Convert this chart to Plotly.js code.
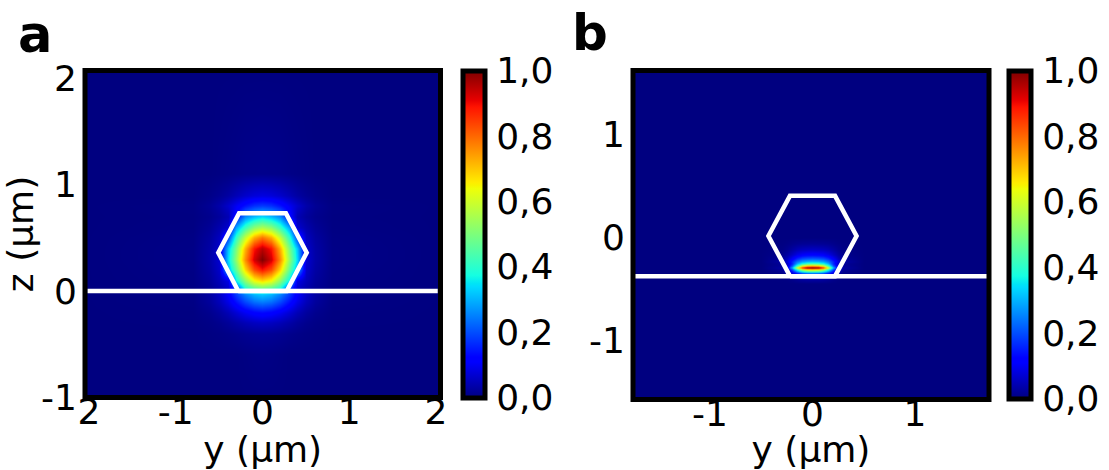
<!DOCTYPE html>
<html>
<head>
<meta charset="utf-8">
<script src="https://cdn.plot.ly/plotly-3.0.1.min.js"></script>
<style>
html,body{margin:0;padding:0;background:#fff;}
#chart{width:1109px;height:470px;}
</style>
</head>
<body>
<div id="chart"></div>
<script>
// ---------- Panel a: field intensity grid ----------
var yA = [-2.1, -0.8, -0.6, -0.5, -0.4, -0.3, -0.2, -0.1, 0, 0.1, 0.2, 0.3, 0.4, 0.5, 0.6, 0.8, 2.1];
var zA = [-1.05, -0.6, -0.4, -0.3, -0.2, -0.1, -0.03, 0.03, 0.1, 0.2, 0.3, 0.4, 0.5, 0.6, 0.7, 0.8, 0.9, 1.1, 2.1];
var intensityA = [
  [0,0,0,0,0,0,0,0,0,0,0,0,0,0,0,0,0],
  [0,0,0,0,0,0,0.002,0.004,0.005,0.004,0.002,0,0,0,0,0,0],
  [0,0,0.002,0.004,0.007,0.011,0.016,0.019,0.02,0.019,0.016,0.011,0.007,0.004,0.002,0,0],
  [0,0.001,0.006,0.012,0.022,0.034,0.047,0.056,0.06,0.056,0.047,0.034,0.022,0.012,0.006,0.001,0],
  [0,0.002,0.013,0.026,0.047,0.073,0.10,0.12,0.13,0.12,0.10,0.073,0.047,0.026,0.013,0.002,0],
  [0,0.004,0.025,0.05,0.09,0.14,0.195,0.235,0.25,0.235,0.195,0.14,0.09,0.05,0.025,0.004,0],
  [0,0.005,0.03,0.06,0.11,0.18,0.25,0.30,0.32,0.30,0.25,0.18,0.11,0.06,0.03,0.005,0],
  [0,0.003,0.019,0.038,0.068,0.20,0.40,0.47,0.50,0.47,0.40,0.20,0.068,0.038,0.019,0.003,0],
  [0,0.004,0.024,0.05,0.088,0.36,0.52,0.64,0.68,0.64,0.52,0.36,0.088,0.05,0.024,0.004,0],
  [0,0.005,0.031,0.063,0.30,0.47,0.68,0.83,0.89,0.83,0.68,0.47,0.30,0.063,0.031,0.005,0],
  [0,0.006,0.035,0.07,0.34,0.53,0.76,0.93,1.0,0.93,0.76,0.53,0.34,0.07,0.035,0.006,0],
  [0,0.006,0.033,0.067,0.32,0.50,0.72,0.89,0.95,0.89,0.72,0.50,0.32,0.067,0.033,0.006,0],
  [0,0.005,0.028,0.055,0.19,0.41,0.59,0.73,0.79,0.73,0.59,0.41,0.19,0.055,0.028,0.005,0],
  [0,0.003,0.02,0.04,0.07,0.29,0.42,0.52,0.56,0.52,0.42,0.29,0.07,0.04,0.02,0.003,0],
  [0,0.002,0.012,0.024,0.045,0.13,0.26,0.31,0.34,0.31,0.26,0.13,0.045,0.024,0.012,0.002,0],
  [0,0.003,0.018,0.036,0.065,0.10,0.14,0.17,0.18,0.17,0.14,0.10,0.065,0.036,0.018,0.003,0],
  [0,0,0.008,0.017,0.03,0.047,0.065,0.078,0.083,0.078,0.065,0.047,0.03,0.017,0.008,0,0],
  [0,0,0,0.002,0.004,0.006,0.009,0.01,0.011,0.01,0.009,0.006,0.004,0.002,0,0,0],
  [0,0,0,0,0,0,0,0,0,0,0,0,0,0,0,0,0]
];
// hexagon outline and substrate interface, panel a (µm)
var hexA_y = [-0.28, 0.28, 0.51, 0.27, -0.27, -0.51, -0.28];
var hexA_z = [0, 0, 0.36, 0.73, 0.73, 0.36, 0];
var interfaceA_y = [-2.02, 2.02];
var interfaceA_z = [0, 0];

// ---------- Panel b: field intensity grid ----------
var yB = [-1.8, -0.5, -0.3, -0.25, -0.2, -0.15, -0.1, -0.05, 0, 0.05, 0.1, 0.15, 0.2, 0.25, 0.3, 0.5, 1.8];
var zB = [-1.6, -0.45, -0.38, -0.36, -0.34, -0.32, -0.30, -0.28, -0.26, -0.24, -0.21, -0.17, -0.12, -0.06, 0, 1.65];
var intensityB = [
  [0,0,0,0,0,0,0,0,0,0,0,0,0,0,0,0,0],
  [0,0,0,0,0,0,0,0,0,0,0,0,0,0,0,0,0],
  [0,0,0.002,0.005,0.015,0.03,0.043,0.049,0.05,0.049,0.043,0.03,0.015,0.005,0.002,0,0],
  [0,0,0.003,0.01,0.03,0.06,0.085,0.097,0.1,0.097,0.085,0.06,0.03,0.01,0.003,0,0],
  [0,0,0.009,0.03,0.09,0.18,0.255,0.29,0.3,0.29,0.255,0.18,0.09,0.03,0.009,0,0],
  [0,0,0.02,0.065,0.195,0.39,0.55,0.63,0.65,0.63,0.55,0.39,0.195,0.065,0.02,0,0],
  [0,0,0.03,0.1,0.3,0.6,0.85,0.97,1.0,0.97,0.85,0.6,0.3,0.1,0.03,0,0],
  [0,0,0.021,0.07,0.21,0.42,0.6,0.68,0.7,0.68,0.6,0.42,0.21,0.07,0.021,0,0],
  [0,0,0.02,0.06,0.16,0.3,0.39,0.44,0.45,0.44,0.39,0.3,0.16,0.06,0.02,0,0],
  [0,0,0.032,0.08,0.16,0.24,0.29,0.31,0.32,0.31,0.29,0.24,0.16,0.08,0.032,0,0],
  [0,0,0.022,0.055,0.11,0.165,0.2,0.213,0.22,0.213,0.2,0.165,0.11,0.055,0.022,0,0],
  [0,0,0.012,0.03,0.06,0.09,0.108,0.116,0.12,0.116,0.108,0.09,0.06,0.03,0.012,0,0],
  [0,0,0.006,0.015,0.03,0.045,0.054,0.058,0.06,0.058,0.054,0.045,0.03,0.015,0.006,0,0],
  [0,0,0.002,0.005,0.01,0.015,0.018,0.019,0.02,0.019,0.018,0.015,0.01,0.005,0.002,0,0],
  [0,0,0,0,0,0,0,0,0,0,0,0,0,0,0,0,0],
  [0,0,0,0,0,0,0,0,0,0,0,0,0,0,0,0,0]
];
var hexB_y = [-0.22, 0.22, 0.43, 0.22, -0.22, -0.43, -0.22];
var hexB_z = [-0.38, -0.38, 0.01, 0.40, 0.40, 0.01, -0.38];
var interfaceB_y = [-1.76, 1.73];
var interfaceB_z = [-0.38, -0.38];

// ---------- tick labels ----------
var tickA_x = [-2, -1, 0, 1, 2];
var tickA_xtext = ['2', '-1', '0', '1', '2'];
var tickA_z = [-1, 0, 1, 2];
var tickA_ztext = ['-1', '0', '1', '2'];
var tickB_x = [-1, 0, 1];
var tickB_xtext = ['-1', '0', '1'];
var tickB_z = [-1, 0, 1];
var tickB_ztext = ['-1', '0', '1'];
var cbTicks = [0, 0.2, 0.4, 0.6, 0.8, 1.0];
var cbTickText = ['0,0', '0,2', '0,4', '0,6', '0,8', '1,0'];

var jet = [[0,'rgb(0,0,128)'],[0.11,'rgb(0,0,255)'],[0.125,'rgb(0,0,255)'],[0.34,'rgb(0,219,255)'],
  [0.35,'rgb(0,229,246)'],[0.375,'rgb(21,255,226)'],[0.64,'rgb(239,255,8)'],[0.65,'rgb(247,245,0)'],
  [0.66,'rgb(255,236,0)'],[0.89,'rgb(255,19,0)'],[0.91,'rgb(232,0,0)'],[1,'rgb(128,0,0)']];

var W = 1109, H = 470;
var FONT = 'DejaVu Sans';

// frame (line-centre) pixel boxes of the two panels
var boxA = {l: 85, r: 440.5, t: 70.5, b: 397.5};
var boxB = {l: 633, r: 989, t: 70.5, b: 399.5};

function cb(leftPx, topPx, lenPx) {
  return {
    x: leftPx / W, xanchor: 'left', xpad: 0,
    y: 1 - topPx / H, yanchor: 'top', ypad: 0,
    len: lenPx, lenmode: 'pixels',
    thickness: 22, thicknessmode: 'pixels',
    outlinewidth: 5, outlinecolor: '#000',
    tickmode: 'array', tickvals: cbTicks, ticktext: cbTickText,
    ticks: 'outside', ticklen: 2, tickcolor: 'rgba(0,0,0,0)',
    tickfont: {family: FONT, size: 36, color: '#000'}
  };
}

var traces = [
  {type: 'heatmap', x: yA, y: zA, z: intensityA, zmin: 0, zmax: 1, zsmooth: 'best',
   colorscale: jet, xaxis: 'x', yaxis: 'y', hoverinfo: 'skip', colorbar: cb(463, 70.5, 327)},
  {type: 'scatter', mode: 'lines', x: interfaceA_y, y: interfaceA_z, xaxis: 'x', yaxis: 'y',
   line: {color: '#fff', width: 4.5}, showlegend: false, hoverinfo: 'skip'},
  {type: 'scatter', mode: 'lines', x: hexA_y, y: hexA_z, xaxis: 'x', yaxis: 'y',
   line: {color: '#fff', width: 4.5}, showlegend: false, hoverinfo: 'skip'},
  {type: 'heatmap', x: yB, y: zB, z: intensityB, zmin: 0, zmax: 1, zsmooth: 'best',
   colorscale: jet, xaxis: 'x2', yaxis: 'y2', hoverinfo: 'skip', colorbar: cb(1009, 70.5, 328)},
  {type: 'scatter', mode: 'lines', x: interfaceB_y, y: interfaceB_z, xaxis: 'x2', yaxis: 'y2',
   line: {color: '#fff', width: 4.5}, showlegend: false, hoverinfo: 'skip'},
  {type: 'scatter', mode: 'lines', x: hexB_y, y: hexB_z, xaxis: 'x2', yaxis: 'y2',
   line: {color: '#fff', width: 4.5}, showlegend: false, hoverinfo: 'skip'}
];

function ax(domain, range, position, tv, tt, title) {
  return {
    domain: domain, range: range, autorange: false,
    anchor: 'free', position: position,
    showline: false, showgrid: false, zeroline: false, ticks: '',
    tickmode: 'array', tickvals: tv, ticktext: tt,
    tickfont: {family: FONT, size: 36, color: '#000'},
    title: title ? {text: title, font: {family: FONT, size: 36, color: '#000'}} : {text: ''},
    fixedrange: true
  };
}
function frame(box) {
  return {type: 'rect', xref: 'paper', yref: 'paper', layer: 'above',
    x0: box.l / W, x1: box.r / W, y0: 1 - box.b / H, y1: 1 - box.t / H,
    line: {color: '#000', width: 5}, fillcolor: 'rgba(0,0,0,0)'};
}

var layout = {
  width: W, height: H,
  margin: {l: 0, r: 0, t: 0, b: 0, pad: 0},
  paper_bgcolor: '#fff', plot_bgcolor: 'rgb(0,0,128)',
  font: {family: FONT, color: '#000'},
  showlegend: false,
  xaxis: ax([boxA.l / W, boxA.r / W], [-2.046, 2.052], 1 - (boxA.b - 11) / H, tickA_x, tickA_xtext, 'y (μm)'),
  yaxis: ax([1 - boxA.b / H, 1 - boxA.t / H], [-1, 2.07], (boxA.l - 8) / W, tickA_z, tickA_ztext, 'z (μm)'),
  xaxis2: ax([boxB.l / W, boxB.r / W], [-1.751, 1.722], 1 - (boxB.b - 11) / H, tickB_x, tickB_xtext, 'y (μm)'),
  yaxis2: ax([1 - boxB.b / H, 1 - boxB.t / H], [-1.578, 1.617], (boxB.l - 8) / W, tickB_z, tickB_ztext, ''),
  shapes: [frame(boxA), frame(boxB)],
  annotations: [
    {text: '<b>a</b>', xref: 'paper', yref: 'paper', x: 16 / W, y: 1 - 34 / H, xanchor: 'left', yanchor: 'middle',
     showarrow: false, font: {family: FONT, size: 51, color: '#000'}},
    {text: '<b>b</b>', xref: 'paper', yref: 'paper', x: 570 / W, y: 1 - 33 / H, xanchor: 'left', yanchor: 'middle',
     showarrow: false, font: {family: FONT, size: 50, color: '#000'}}
  ]
};

Plotly.newPlot('chart', traces, layout, {staticPlot: true, displayModeBar: false});
</script>
</body>
</html>
